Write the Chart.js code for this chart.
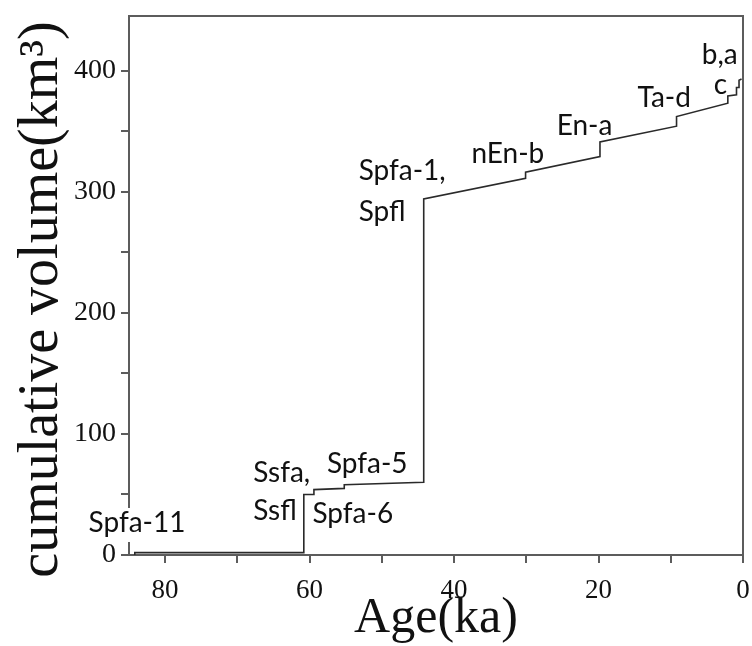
<!DOCTYPE html>
<html>
<head>
<meta charset="utf-8">
<script src="https://cdn.jsdelivr.net/npm/chart.js@4/dist/chart.umd.min.js"></script>
<style>
html, body { margin: 0; padding: 0; background: #fff; }
</style>
</head>
<body>
<canvas id="myChart" width="752" height="646"></canvas>
<script>
// cumulative erupted volume vs age (ka)
var ages    = [84.2, 84.2, 60.8, 60.8, 59.4, 59.4, 55.2, 55.2, 44.2, 44.2, 30.1, 30.1, 19.8, 19.8, 9.2, 9.2, 2.1, 2.1, 0.9, 0.9, 0.55, 0.55, 0.2];
var volumes = [0, 2, 2, 50, 50, 54, 55, 58, 60, 294, 311, 316, 329, 341, 354, 362, 373, 379, 380, 386, 386, 392, 393];

var xTicks = [0, 20, 40, 60, 80];          // labelled, minor marks every 10
var yTicks = [0, 100, 200, 300, 400];      // labelled, minor marks every 50

// eruption labels (text, age of left edge, volume of baseline)
var labelText = ["Spfa-11", "Ssfa,", "Ssfl", "Spfa-5", "Spfa-6", "Spfa-1,", "Spfl", "nEn-b", "En-a", "Ta-d", "b,a", "c"];
var labelAge  = [90.6, 67.8, 67.8, 57.6, 59.6, 53.2, 53.2, 37.6, 25.8, 14.6, 5.7, 4.05];
var labelVol  = [19, 60.3, 28.9, 67.8, 26.4, 310, 276, 324, 347, 370, 405, 381];

var points = ages.map(function(a, i) { return {x: a, y: volumes[i]}; });

var frameColor = '#5c5c5c';

// labelled ticks plus the unlabelled ones half way between
function withMinor(major) {
  var out = [];
  for (var i = 0; i < major.length; i++) {
    out.push({value: major[i]});
    if (i < major.length - 1) out.push({value: (major[i] + major[i + 1]) / 2});
  }
  return out;
}

var labelPlugin = {
  id: 'eruptionLabels',
  afterDraw: function(chart) {
    var c = chart.ctx, xs = chart.scales.x, ys = chart.scales.y, area = chart.chartArea;
    c.save();
    // top and right frame
    c.strokeStyle = frameColor;
    c.lineWidth = 2;
    c.beginPath();
    c.moveTo(area.left - 1, area.top);
    c.lineTo(area.right, area.top);
    c.lineTo(area.right, area.bottom);
    c.stroke();

    c.font = '28px Lato';
    c.textAlign = 'left';
    c.textBaseline = 'alphabetic';
    for (var i = 0; i < labelText.length; i++) {
      var px = xs.getPixelForValue(labelAge[i]);
      var py = ys.getPixelForValue(labelVol[i]);
      var w = c.measureText(labelText[i]).width;
      if (px < area.left) {
        // label sits over the y axis, blank it out behind the text
        c.fillStyle = '#fff';
        c.fillRect(px - 2, py - 24, w + 4, 34);
      }
      c.fillStyle = '#111';
      c.fillText(labelText[i], px, py);
    }
    c.restore();
  }
};

var ctx = document.getElementById('myChart').getContext('2d');

var chart = new Chart(ctx, {
  type: 'scatter',
  data: {
    datasets: [{
      data: points,
      showLine: true,
      borderColor: '#2a2a2a',
      borderWidth: 1.6,
      pointRadius: 0,
      tension: 0,
      fill: false
    }]
  },
  options: {
    responsive: false,
    animation: false,
    devicePixelRatio: 1,
    layout: { padding: { top: 16, right: 9, left: 0, bottom: 0 } },
    plugins: {
      legend: { display: false },
      tooltip: { enabled: false }
    },
    scales: {
      x: {
        type: 'linear',
        reverse: true,
        min: 0,
        max: 85,
        afterBuildTicks: function(s) { s.ticks = withMinor(xTicks); },
        afterFit: function(s) {
          s.height = 91;
          s.paddingLeft = 0;
          s.paddingRight = 0;
        },
        border: { color: frameColor, width: 2 },
        grid: { drawOnChartArea: false, tickLength: 8, color: frameColor, lineWidth: 2 },
        ticks: {
          autoSkip: false,
          maxRotation: 0,
          padding: 12,
          color: '#111',
          font: { family: 'Liberation Serif', size: 27 },
          callback: function(v) { return xTicks.indexOf(v) >= 0 ? String(v) : ''; }
        },
        title: {
          display: true,
          text: 'Age(ka)',
          color: '#111',
          font: { family: 'Liberation Serif', size: 50, lineHeight: 1 },
          padding: { top: 0, bottom: 2 }
        }
      },
      y: {
        type: 'linear',
        min: 0,
        max: 445,
        afterBuildTicks: function(s) { s.ticks = withMinor(yTicks); },
        afterFit: function(s) {
          s.width = 129;
          s.paddingTop = 0;
          s.paddingBottom = 0;
        },
        border: { color: frameColor, width: 2 },
        grid: { drawOnChartArea: false, tickLength: 8, color: frameColor, lineWidth: 2 },
        ticks: {
          autoSkip: false,
          padding: 5,
          color: '#111',
          font: { family: 'Liberation Serif', size: 28 },
          callback: function(v) { return yTicks.indexOf(v) >= 0 ? String(v) : ''; }
        },
        title: {
          display: true,
          text: 'cumulative volume(km\u00b3)  ',
          color: '#111',
          font: { family: 'Liberation Serif', size: 56, lineHeight: 1 },
          padding: { top: 14, bottom: 0 }
        }
      }
    }
  },
  plugins: [labelPlugin]
});
</script>
</body>
</html>
